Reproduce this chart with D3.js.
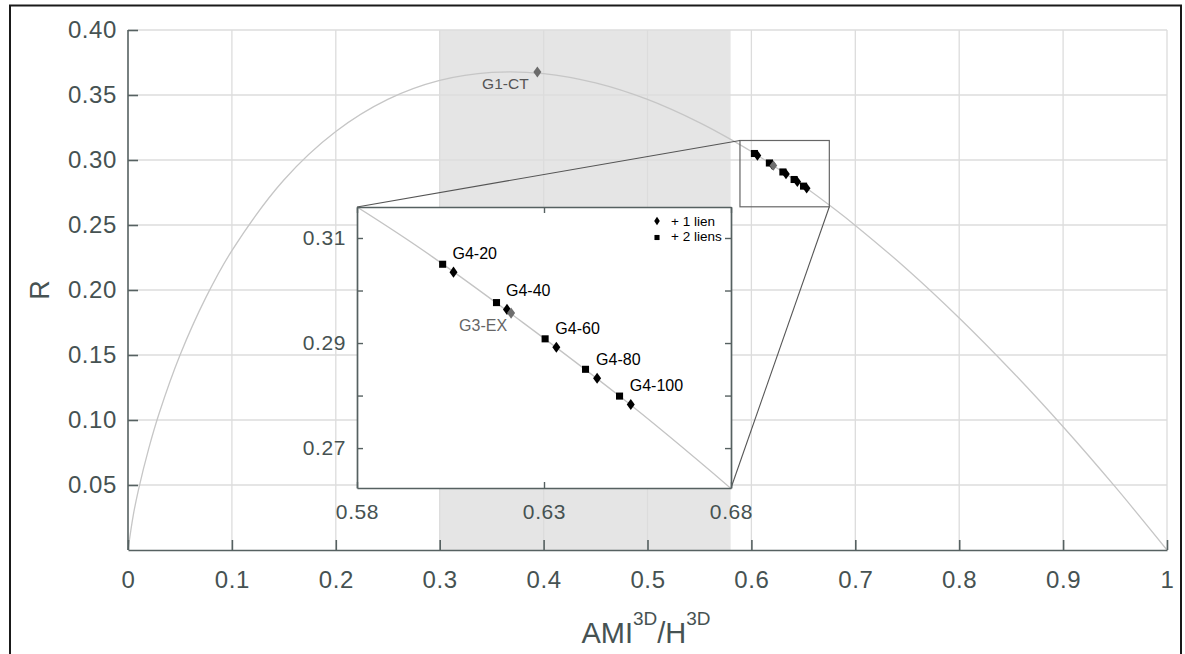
<!DOCTYPE html>
<html>
<head>
<meta charset="utf-8">
<script src="https://cdn.jsdelivr.net/npm/d3@7"></script>
<style>
  html, body { margin: 0; padding: 0; background: #fff; }
  svg { display: block; font-family: "Helvetica Neue", Helvetica, Arial, "Liberation Sans", sans-serif; }
</style>
</head>
<body>
<svg id="chart" width="1185" height="654"></svg>
<script>
// ---------- data ----------
const curveX = [0, 0.005, 0.01, 0.02, 0.03, 0.05, 0.075, 0.1, 0.15, 0.2, 0.25, 0.3, 0.35, 0.4, 0.45, 0.5, 0.55, 0.58, 0.6, 0.65, 0.68, 0.7, 0.75, 0.8, 0.85, 0.9, 0.95, 1];
const curveR = [0, 0.0265, 0.0461, 0.0782, 0.1052, 0.1498, 0.1943, 0.2303, 0.2846, 0.3219, 0.3466, 0.3612, 0.3674, 0.3665, 0.3593, 0.3466, 0.3288, 0.3159, 0.3065, 0.2800, 0.2623, 0.2497, 0.2158, 0.1785, 0.1381, 0.0948, 0.0487, 0];

const xTicks = [0, 0.1, 0.2, 0.3, 0.4, 0.5, 0.6, 0.7, 0.8, 0.9, 1];
const xTickLabels = ["0", "0.1", "0.2", "0.3", "0.4", "0.5", "0.6", "0.7", "0.8", "0.9", "1"];
const yTicks = [0.05, 0.10, 0.15, 0.20, 0.25, 0.30, 0.35, 0.40];
const yTickLabels = ["0.05", "0.10", "0.15", "0.20", "0.25", "0.30", "0.35", "0.40"];

const shadeRange = [0.3, 0.58];

const groupNames = ["G4-20", "G4-40", "G4-60", "G4-80", "G4-100"];
// "+ 2 liens" (squares)
const twoLinksX = [0.6029, 0.6173, 0.6303, 0.6411, 0.6502];
const twoLinksR = [0.3050, 0.2977, 0.2908, 0.2850, 0.2799];
// "+ 1 lien" (diamonds)
const oneLinkX = [0.6058, 0.6201, 0.6333, 0.6442, 0.6532];
const oneLinkR = [0.3035, 0.2964, 0.2892, 0.2833, 0.2783];

const g3Name = "G3-EX", g3X = 0.6212, g3R = 0.2957;
const g1Name = "G1-CT", g1X = 0.394, g1R = 0.3677;

const zoomBoxX = [0.589, 0.675];
const zoomBoxR = [0.264, 0.315];

const insetXDomain = [0.58, 0.68];
const insetRDomain = [0.2624, 0.3159];
const insetXTicks = [0.58, 0.63, 0.68];
const insetXTickLabels = ["0.58", "0.63", "0.68"];
const insetRTicks = [0.27, 0.28, 0.29, 0.30, 0.31];
const insetRTickLabels = ["0.27", "", "0.29", "", "0.31"];

const legendLabels = ["+ 1 lien", "+ 2 liens"];
const xAxisTitle = ["AMI", "3D", "/H", "3D"];
const yAxisTitle = "R";

// ---------- layout ----------
const svg = d3.select("#chart");
const axisColor = "#566161";
const textColor = "#465252";
const gridColor = "#dcdcdc";

const x = d3.scaleLinear().domain([0, 1]).range([128, 1167]);
const y = d3.scaleLinear().domain([0, 0.4]).range([550, 30]);

// outer frame
svg.append("rect").attr("x", 10).attr("y", 5.5).attr("width", 1171).attr("height", 660)
  .attr("fill", "none").attr("stroke", "#1a1a1a").attr("stroke-width", 2);

// shaded band
svg.append("rect")
  .attr("x", x(shadeRange[0])).attr("y", y(0.4))
  .attr("width", x(shadeRange[1]) - x(shadeRange[0]))
  .attr("height", y(0) - y(0.4))
  .attr("fill", "#e5e5e5");

// grid
const grid = svg.append("g").attr("stroke", gridColor).attr("stroke-width", 1.3);
grid.selectAll("line.v").data(xTicks.slice(1)).join("line")
  .attr("x1", d => x(d)).attr("x2", d => x(d)).attr("y1", y(0)).attr("y2", y(0.4));
grid.selectAll("line.h").data(yTicks).join("line")
  .attr("x1", x(0)).attr("x2", x(1)).attr("y1", d => y(d)).attr("y2", d => y(d));

// curve
const curvePts = curveX.map((v, i) => [v, curveR[i]]);
const line = d3.line().x(d => x(d[0])).y(d => y(d[1])).curve(d3.curveCatmullRom.alpha(0.5));
svg.append("path").attr("d", line(curvePts)).attr("fill", "none")
  .attr("stroke", "#c6c6c6").attr("stroke-width", 1.3);

// axes
const xAxis = d3.axisBottom(x).tickValues(xTicks).tickFormat((d, i) => xTickLabels[i])
  .tickSizeInner(-10).tickSizeOuter(0).tickPadding(20.5);
const gx = svg.append("g").attr("transform", `translate(0,${y(0)})`).call(xAxis);
const yAxis = d3.axisLeft(y).tickValues(yTicks).tickFormat((d, i) => yTickLabels[i])
  .tickSizeInner(-10).tickSizeOuter(0).tickPadding(11);
const gy = svg.append("g").attr("transform", `translate(${x(0)},0)`).call(yAxis);
[gx, gy].forEach(g => {
  g.select(".domain").attr("stroke", axisColor).attr("stroke-width", 1.6);
  g.selectAll(".tick line").attr("stroke", axisColor).attr("stroke-width", 1.6);
  g.selectAll(".tick text").attr("fill", textColor).attr("font-size", 24).attr("letter-spacing", 0.6)
    .attr("font-family", null);
});
gy.select(".domain").attr("d", `M0,${y(0.4)}V${y(0)}`);

// axis titles
const xt = svg.append("text").attr("x", 646).attr("y", 643).attr("text-anchor", "middle")
  .attr("fill", textColor).attr("font-size", 29);
xt.append("tspan").text(xAxisTitle[0]);
xt.append("tspan").attr("font-size", 19).attr("dy", -18).text(xAxisTitle[1]);
xt.append("tspan").attr("dy", 18).text(xAxisTitle[2]);
xt.append("tspan").attr("font-size", 19).attr("dy", -18).text(xAxisTitle[3]);

svg.append("text").attr("transform", `translate(49,290) rotate(-90)`).attr("text-anchor", "middle")
  .attr("fill", textColor).attr("font-size", 27).text(yAxisTitle);

// symbols
const diamond = (w, h) => `M0,${-h}L${w},0L0,${h}L${-w},0Z`;
const square = (s) => d3.symbol().type(d3.symbolSquare).size(s)();

// G1-CT
svg.append("path").attr("d", diamond(4, 5.5)).attr("transform", `translate(${x(g1X)},${y(g1R)})`)
  .attr("fill", "#6b6b6b");
svg.append("text").attr("x", x(g1X) - 32).attr("y", y(g1R) + 17).attr("text-anchor", "middle")
  .attr("fill", "#555").attr("font-size", 15.5).text(g1Name);

// main-plot cluster
const mg = svg.append("g");
mg.selectAll("path.sq").data(twoLinksX).join("path").attr("class", "sq")
  .attr("d", square(50))
  .attr("transform", (d, i) => `translate(${x(d)},${y(twoLinksR[i])})`).attr("fill", "#000");
mg.selectAll("path.di").data(oneLinkX).join("path").attr("class", "di")
  .attr("d", diamond(3.8, 5.2))
  .attr("transform", (d, i) => `translate(${x(d)},${y(oneLinkR[i])})`).attr("fill", "#000");
mg.append("path").attr("d", diamond(3.8, 5.2))
  .attr("transform", `translate(${x(g3X)},${y(g3R)})`).attr("fill", "#6e6e6e");

// zoom box
const zbx0 = x(zoomBoxX[0]), zbx1 = x(zoomBoxX[1]), zby0 = y(zoomBoxR[1]), zby1 = y(zoomBoxR[0]);
svg.append("rect").attr("x", zbx0).attr("y", zby0).attr("width", zbx1 - zbx0).attr("height", zby1 - zby0)
  .attr("fill", "none").attr("stroke", "#666").attr("stroke-width", 1.2);

// inset
const ix = d3.scaleLinear().domain(insetXDomain).range([357, 731]);
const iy = d3.scaleLinear().domain(insetRDomain).range([488, 207]);

// connectors
svg.append("line").attr("x1", zbx0).attr("y1", zby0).attr("x2", ix.range()[0]).attr("y2", iy.range()[1])
  .attr("stroke", "#555").attr("stroke-width", 1.1);
svg.append("line").attr("x1", zbx1).attr("y1", zby1).attr("x2", ix.range()[1]).attr("y2", iy.range()[0])
  .attr("stroke", "#555").attr("stroke-width", 1.1);

const inset = svg.append("g");
inset.append("rect").attr("x", 357).attr("y", 207).attr("width", 731 - 357).attr("height", 488 - 207)
  .attr("fill", "#fff");
svg.append("clipPath").attr("id", "insetClip").append("rect")
  .attr("x", 357).attr("y", 207).attr("width", 731 - 357).attr("height", 488 - 207);
const iline = d3.line().x(d => ix(d[0])).y(d => iy(d[1])).curve(d3.curveCatmullRom.alpha(0.5));
inset.append("path").attr("d", iline(curvePts)).attr("clip-path", "url(#insetClip)")
  .attr("fill", "none").attr("stroke", "#c4c4c4").attr("stroke-width", 1.3);

// inset axes
const iax = [
  d3.axisBottom(ix).tickValues(insetXTicks).tickFormat((d, i) => insetXTickLabels[i]).tickSizeInner(-6).tickSizeOuter(0).tickPadding(16),
  d3.axisTop(ix).tickValues(insetXTicks).tickFormat("").tickSizeInner(-6).tickSizeOuter(0),
  d3.axisLeft(iy).tickValues(insetRTicks).tickFormat((d, i) => insetRTickLabels[i]).tickSizeInner(-6).tickSizeOuter(0).tickPadding(11),
  d3.axisRight(iy).tickValues(insetRTicks).tickFormat("").tickSizeInner(-6).tickSizeOuter(0)
];
const iaxPos = [`translate(0,488)`, `translate(0,207)`, `translate(357,0)`, `translate(731,0)`];
iax.forEach((a, k) => {
  const g = inset.append("g").attr("transform", iaxPos[k]).call(a);
  g.select(".domain").attr("stroke", axisColor).attr("stroke-width", 1.7);
  g.selectAll(".tick line").attr("stroke", axisColor).attr("stroke-width", 1.4);
  g.selectAll(".tick text").attr("fill", textColor).attr("font-size", 21).attr("letter-spacing", 0.6)
    .attr("font-family", null);
});

// inset points
const ipg = inset.append("g");
ipg.selectAll("path.sq").data(twoLinksX).join("path")
  .attr("d", square(50))
  .attr("transform", (d, i) => `translate(${ix(d)},${iy(twoLinksR[i])})`).attr("fill", "#000");
ipg.selectAll("path.di").data(oneLinkX).join("path")
  .attr("d", diamond(4, 5.6))
  .attr("transform", (d, i) => `translate(${ix(d)},${iy(oneLinkR[i])})`).attr("fill", "#000");
ipg.append("path").attr("d", diamond(4, 5.6))
  .attr("transform", `translate(${ix(g3X)},${iy(g3R)})`).attr("fill", "#6e6e6e");

// inset labels
inset.selectAll("text.lab").data(groupNames).join("text")
  .attr("x", (d, i) => ix(oneLinkX[i]) - 1).attr("y", (d, i) => iy(oneLinkR[i]) - 13)
  .attr("font-size", 16).attr("fill", "#000").text(d => d);
inset.append("text").attr("x", ix(g3X) - 4).attr("y", iy(g3R) + 18).attr("text-anchor", "end")
  .attr("font-size", 16).attr("fill", "#666").text(g3Name);

// legend
const lg = inset.append("g");
lg.append("path").attr("d", diamond(2.8, 4.2)).attr("transform", "translate(657,221)").attr("fill", "#000");
lg.append("path").attr("d", square(26)).attr("transform", "translate(657,237.5)").attr("fill", "#000");
lg.selectAll("text").data(legendLabels).join("text")
  .attr("x", 671).attr("y", (d, i) => 225.5 + i * 15).attr("font-size", 13.5).attr("fill", "#000").text(d => d);
</script>
</body>
</html>
